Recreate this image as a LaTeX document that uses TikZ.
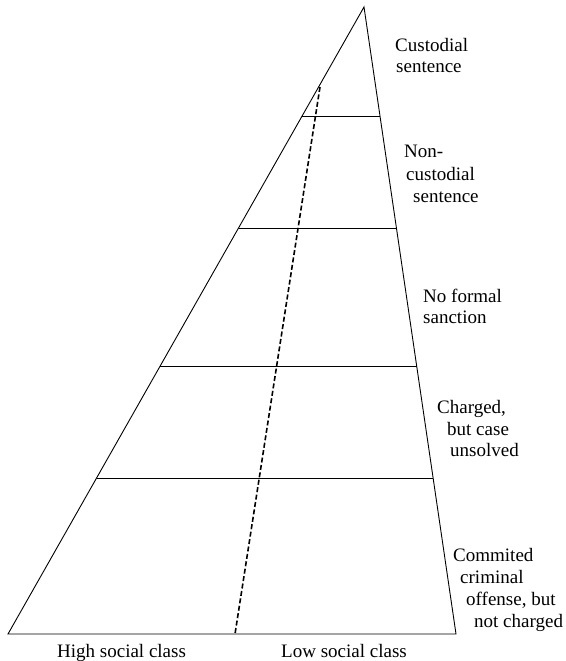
\documentclass[tikz,border=0pt]{standalone}
\usepackage{fontspec}
\setmainfont{LiberationSerif}[Extension=.ttf, UprightFont=*-Regular]
\begin{document}
\begin{tikzpicture}[x=1pt,y=-1pt,
  edge/.style={line width=0.9pt, line join=miter},
  divider/.style={line width=0.9pt},
  splitline/.style={line width=1.6pt, dash pattern=on 5pt off 2.5pt},
  lbl/.style={anchor=base west, inner sep=0pt, font=\rmfamily\fontsize{19}{22}\selectfont}]
\useasboundingbox (0,0) rectangle (565,661);
% triangle corners
\coordinate (apex) at (364,7);
\coordinate (bl) at (8,634);
\coordinate (br) at (456,634);
\draw[edge] (apex) -- (bl) -- (br) -- cycle;
% divider end points
\coordinate (l1) at (302.1,116); \coordinate (r1) at (380.0,116);
\coordinate (l2) at (238.5,228); \coordinate (r2) at (396.4,228);
\coordinate (l3) at (160.2,366); \coordinate (r3) at (416.7,366);
\coordinate (l4) at (96.5,478);  \coordinate (r4) at (433.1,478);
\draw[divider] (l1) -- (r1);
\draw[divider] (l2) -- (r2);
\draw[divider] (l3) -- (r3);
\draw[divider] (l4) -- (r4);
% dashed class split
\coordinate (dtop) at (320,87);
\coordinate (dbot) at (235,634);
\draw[splitline] (dtop) -- (dbot);
% labels
\node[lbl] (c1) at (395,52) {Custodial};
\node[lbl] (c2) at (396,73) {sentence};
\node[lbl] (n1) at (404,157) {Non-};
\node[lbl] (n2) at (406,180) {custodial};
\node[lbl] (n3) at (413,202) {sentence};
\node[lbl] (f1) at (423,302) {No formal};
\node[lbl] (f2) at (423,323) {sanction};
\node[lbl] (g1) at (437,413) {Charged,};
\node[lbl] (g2) at (447,435) {but case};
\node[lbl] (g3) at (450,456) {unsolved};
\node[lbl] (o1) at (453,561) {Commited};
\node[lbl] (o2) at (460,583) {criminal};
\node[lbl] (o3) at (466,605) {offense, but};
\node[lbl] (o4) at (474,627) {not charged};
\node[lbl] (hi) at (57,657) {High social class};
\node[lbl] (lo) at (281,657) {Low social class};
\end{tikzpicture}
\end{document}
